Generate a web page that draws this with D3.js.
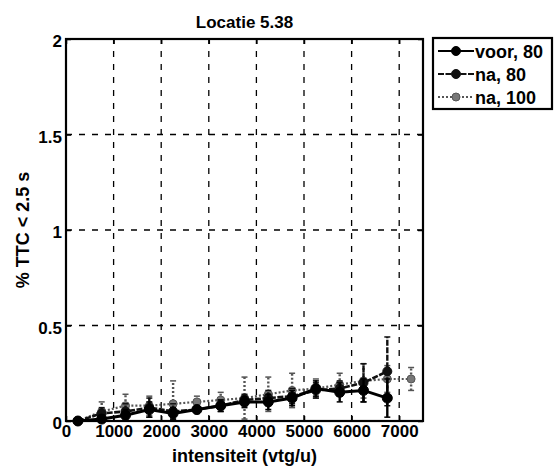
<!DOCTYPE html>
<html><head><meta charset="utf-8">
<script src="https://cdn.jsdelivr.net/npm/d3@7"></script>
<style>body{margin:0;background:#fff}svg{display:block}text{font-family:"Liberation Sans",Arial,sans-serif;fill:#000;font-weight:bold}</style>
</head><body>
<script>
const title = "Locatie 5.38";
const xLabel = "intensiteit (vtg/u)";
const yLabel = "% TTC < 2.5 s";
const xTicks = [0,1000,2000,3000,4000,5000,6000,7000];
const yTicks = [0,0.5,1,1.5,2];
const yTickLabels = ["0","0.5","1","1.5","2"];
const seriesNames = ["voor, 80","na, 80","na, 100"];
const xVoor80 = [250,750,1250,1750,2250,2750,3250,3750,4250,4750,5250,5750,6250,6750];
const yVoor80 = [0.00,0.01,0.03,0.06,0.04,0.06,0.08,0.10,0.10,0.12,0.17,0.15,0.16,0.12];
const eVoor80 = [0.01,0.02,0.03,0.04,0.03,0.02,0.03,0.03,0.04,0.04,0.04,0.05,0.06,0.10];
const xNa80 = [250,750,1250,1750,2250,2750,3250,3750,4250,4750,5250,5750,6250,6750];
const yNa80 = [0.00,0.04,0.05,0.07,0.05,0.06,0.08,0.11,0.12,0.13,0.16,0.17,0.20,0.26];
const eNa80 = [0.01,0.03,0.04,0.05,0.04,0.02,0.03,0.03,0.04,0.04,0.04,0.04,0.10,0.18];
const xNa100 = [250,750,1250,1750,2250,2750,3250,3750,4250,4750,5250,5750,6250,6750,7250];
const yNa100 = [0.00,0.05,0.08,0.08,0.09,0.10,0.11,0.12,0.14,0.16,0.17,0.19,0.21,0.22,0.22];
const eNa100 = [0.01,0.05,0.06,0.05,0.12,0.03,0.04,0.11,0.09,0.09,0.05,0.06,0.09,0.07,0.06];

const W=554,H=468;
const svg=d3.select("body").append("svg").attr("width",W).attr("height",H);
const m={l:66,r:423,t:39,b:421};
const x=d3.scaleLinear().domain([0,7500]).range([m.l,m.r]);
const y=d3.scaleLinear().domain([0,2]).range([m.b,m.t]);

// grid
const g=svg.append("g");
g.selectAll(".gx").data(xTicks.filter(d=>d>0)).join("line")
 .attr("x1",d=>x(d)).attr("x2",d=>x(d)).attr("y1",m.b).attr("y2",m.t)
 .attr("stroke","#000").attr("stroke-width",1.3).attr("stroke-dasharray","6,7");
g.selectAll(".gy").data(yTicks.filter(d=>d>0&&d<2)).join("line")
 .attr("y1",d=>y(d)).attr("y2",d=>y(d)).attr("x1",m.l).attr("x2",m.r)
 .attr("stroke","#000").attr("stroke-width",1.3).attr("stroke-dasharray","6,7");

// axes
const ax=d3.axisBottom(x).tickValues(xTicks).tickSize(-5).tickFormat(d3.format("d"));
const ay=d3.axisLeft(y).tickValues(yTicks).tickSize(-5).tickFormat((d,i)=>yTickLabels[i]);
const gx=svg.append("g").attr("transform",`translate(0,${m.b})`).call(ax);
const gy=svg.append("g").attr("transform",`translate(${m.l},0)`).call(ay);
[gx,gy].forEach(a=>{a.select(".domain").remove();a.selectAll("line").attr("stroke","#000").attr("stroke-width",1.5);
 a.selectAll("text").style("font-size","17px").style("font-weight","bold").style("font-family","'Liberation Sans',Arial,sans-serif").attr("fill","#000");});
gx.selectAll("text").attr("dy","0.8em").attr("y",2);
gy.selectAll("text").attr("x",-4).attr("dy","0.45em");
svg.append("g").attr("transform",`translate(0,${m.t})`).call(d3.axisTop(x).tickValues(xTicks).tickSize(-5).tickFormat(""))
 .call(a=>{a.select(".domain").remove();a.selectAll("line").attr("stroke","#000").attr("stroke-width",1.5);});
svg.append("g").attr("transform",`translate(${m.r},0)`).call(d3.axisRight(y).tickValues(yTicks).tickSize(-5).tickFormat(""))
 .call(a=>{a.select(".domain").remove();a.selectAll("line").attr("stroke","#000").attr("stroke-width",1.5);});

// series
const series=[
 {xs:xNa100,ys:yNa100,es:eNa100,color:"#555",dash:"2,2",lw:2.2,fill:"#777",r:4},
 {xs:xNa80,ys:yNa80,es:eNa80,color:"#111",dash:"6,1.5",lw:2.6,fill:"#111",r:4.5},
 {xs:xVoor80,ys:yVoor80,es:eVoor80,color:"#000",dash:null,lw:3,fill:"#000",r:5}
];
const line=d3.line().x(d=>x(d[0])).y(d=>y(d[1]));
series.forEach(s=>{
 const pts=s.xs.map((v,i)=>[v,s.ys[i],s.es[i]]);
 const sg=svg.append("g");
 sg.selectAll(".eb").data(pts).join("line")
  .attr("x1",d=>x(d[0])).attr("x2",d=>x(d[0]))
  .attr("y1",d=>y(Math.max(0,d[1]-d[2]))).attr("y2",d=>y(d[1]+d[2]))
  .attr("stroke",s.color).attr("stroke-width",2.4).attr("stroke-dasharray",s.dash);
 sg.selectAll(".cap").data(pts.flatMap(d=>[[d[0],Math.max(0,d[1]-d[2])],[d[0],d[1]+d[2]]])).join("line")
  .attr("x1",d=>x(d[0])-3).attr("x2",d=>x(d[0])+3).attr("y1",d=>y(d[1])).attr("y2",d=>y(d[1]))
  .attr("stroke",s.color).attr("stroke-width",1.5);
 sg.append("path").datum(pts).attr("d",line).attr("fill","none")
  .attr("stroke",s.color).attr("stroke-width",s.lw).attr("stroke-dasharray",s.dash);
 sg.selectAll("circle").data(pts).join("circle")
  .attr("cx",d=>x(d[0])).attr("cy",d=>y(d[1])).attr("r",s.r).attr("fill",s.fill).attr("stroke",s.color).attr("stroke-width",1);
});

// frame
svg.append("rect").attr("x",m.l).attr("y",m.t).attr("width",m.r-m.l).attr("height",m.b-m.t)
 .attr("fill","none").attr("stroke","#000").attr("stroke-width",2.2);

// labels
svg.append("text").attr("x",(m.l+m.r)/2).attr("y",28).attr("text-anchor","middle")
 .style("font-size","17px").text(title);
svg.append("text").attr("x",(m.l+m.r)/2).attr("y",462).attr("text-anchor","middle")
 .style("font-size","18px").text(xLabel);
svg.append("text").attr("transform",`translate(29,${(m.t+m.b)/2}) rotate(-90)`).attr("text-anchor","middle")
 .style("font-size","18px").text(yLabel);

// legend
const lg=svg.append("g");
lg.append("rect").attr("x",433).attr("y",38).attr("width",119).attr("height",71)
 .attr("fill","#fff").attr("stroke","#000").attr("stroke-width",2.2);
const legStyles=[
 {color:"#000",dash:null,fill:"#000",r:4.5},
 {color:"#111",dash:"6,1.5",fill:"#111",r:4.5},
 {color:"#555",dash:"2,2",fill:"#777",r:4}
];
seriesNames.forEach((n,i)=>{
 const yy=51+i*23, st=legStyles[i];
 lg.append("line").attr("x1",438).attr("x2",474).attr("y1",yy).attr("y2",yy)
  .attr("stroke",st.color).attr("stroke-width",2.2).attr("stroke-dasharray",st.dash);
 lg.append("circle").attr("cx",456).attr("cy",yy).attr("r",st.r).attr("fill",st.fill).attr("stroke",st.color);
 lg.append("text").attr("x",475).attr("y",yy+6.5).style("font-size","18px").text(n);
});
</script>
</body></html>
